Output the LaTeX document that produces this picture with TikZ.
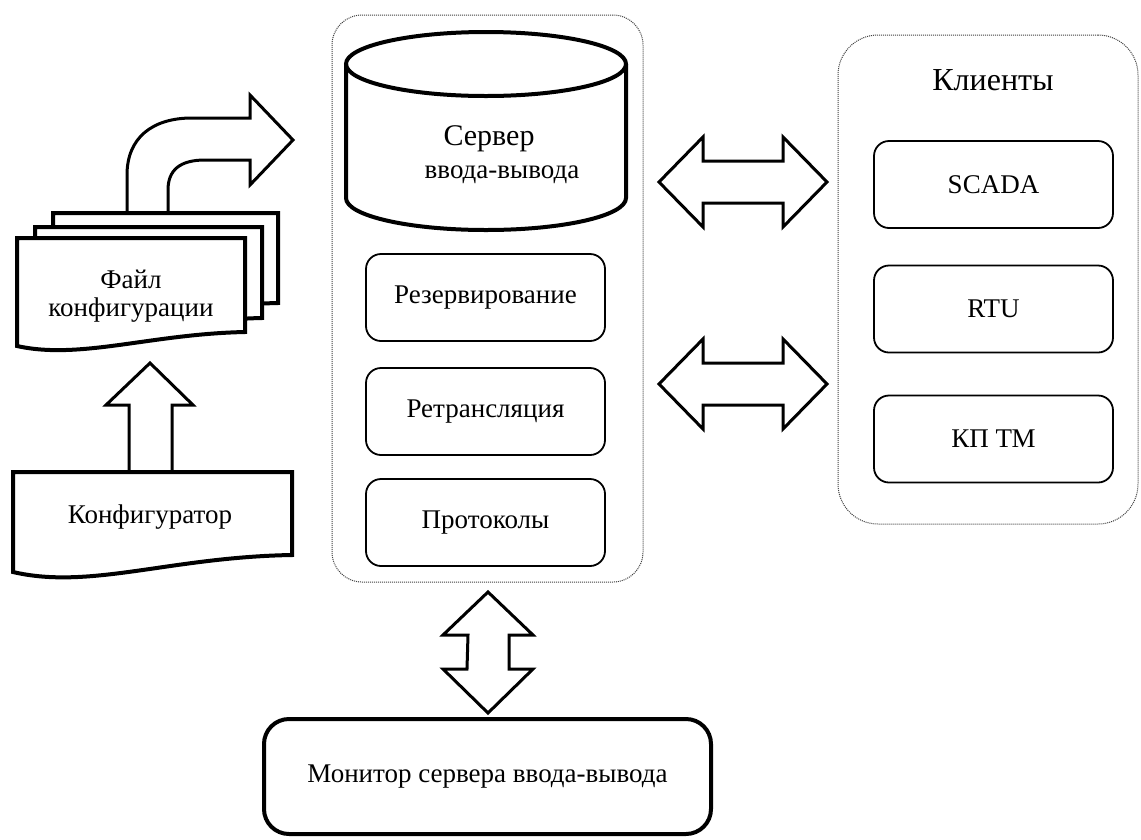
\documentclass[tikz,border=0pt]{standalone}
\usepackage{fontspec}
\setmainfont{Liberation Serif}
\usetikzlibrary{calc}
\newcommand{\lblfont}{\fontsize{27}{28}\selectfont}
\newcommand{\bigfont}{\fontsize{32}{33}\selectfont}
\newcommand{\srvfont}{\fontsize{30}{33}\selectfont}
\begin{document}
\begin{tikzpicture}[x=1pt,y=-1pt,
  thickline/.style={line width=4pt, line join=miter},
  arrowline/.style={line width=3pt, line join=miter, fill=white},
  subbox/.style={draw, line width=1.8pt, rounded corners=15pt, minimum width=239pt, minimum height=87pt, font=\lblfont},
  container/.style={draw=black!75, line width=1pt, dash pattern=on 1pt off 1pt},
  txt/.style={font=\lblfont, align=center}]
\useasboundingbox[fill=white] (0,0) rectangle (1141,839);

% containers
\node[container, rounded corners=30pt, minimum width=311pt, minimum height=567pt] (srv) at (487.5,298.5) {};
\node[container, rounded corners=40pt, minimum width=300pt, minimum height=489pt] (cli) at (988,279.5) {};

% cylinder
\draw[thickline, fill=white] (346,64) -- (346,198) arc[start angle=180, end angle=360, x radius=140pt, y radius=32pt] -- (626,64);
\draw[thickline] (486,64) ellipse [x radius=140pt, y radius=32pt];
\node[font=\lblfont, align=center] (srvlbl) at (502,155) {{\srvfont Сервер\hspace*{26pt}}\\[5pt]ввода-вывода};

% server sub-blocks
\node[subbox] (rez) at (485.5,297.5) {Резервирование};
\node[subbox] (retr) at (485.5,411.5) {Ретрансляция};
\node[subbox] (prot) at (485.5,522.5) {Протоколы};

% clients
\node[font=\bigfont] (clt) at (993,80) {Клиенты};
\node[subbox] (scada) at (993.5,184.5) {SCADA};
\node[subbox] (rtu) at (993.5,309) {RTU};
\node[subbox] (kp) at (993.5,439) {КП ТМ};

% monitor
\node[draw, line width=4pt, rounded corners=25pt, minimum width=447pt, minimum height=115pt, font=\lblfont] (mon) at (487.5,776.5) {Монитор сервера ввода-вывода};

% horizontal double arrows
\coordinate (a1) at (659,182);
\coordinate (a2) at (827,182);
\coordinate (b1) at (659,384);
\coordinate (b2) at (827,384);
\draw[arrowline] (a1) -- ++(44,-45) -- ++(0,24) -- ($(a2)+(-44,-21)$) -- ++(0,-24) -- (a2) -- ++(-44,45) -- ++(0,-24) -- ($(a1)+(44,21)$) -- ++(0,24) -- cycle;
\draw[arrowline] (b1) -- ++(44,-45) -- ++(0,24) -- ($(b2)+(-44,-21)$) -- ++(0,-24) -- (b2) -- ++(-44,45) -- ++(0,-24) -- ($(b1)+(44,21)$) -- ++(0,24) -- cycle;

% vertical double arrow
\coordinate (c1) at (488,592);
\coordinate (c2) at (488,713);
\draw[arrowline] (c1) -- ++(45,43) -- ++(-24,0) -- ($(c2)+(21,-44)$) -- ++(24,0) -- (c2) -- ++(-45,-44) -- ++(24,0) -- ($(c1)+(-20,43)$) -- ++(-25,0) -- cycle;

% curved arrow from files
\coordinate (d0) at (127,213);
\coordinate (d1) at (168,213);
\coordinate (dt) at (293,140);
\draw[arrowline] (d0) -- (127,175) .. controls (127,138) and (152,118) .. (192,118) -- (250,118) -- (250,95) -- (dt) -- (250,185) -- (250,160) -- (205,160) .. controls (180,160) and (168,170) .. (168,190) -- (d1);

% stacked documents
\draw[thickline, fill=white] (53,213) -- (278,213) -- (278,303) .. controls (183,305) and (115,331) .. (53,317) -- cycle;
\draw[thickline, fill=white] (35,227) -- (262,227) -- (262,318) .. controls (167,320) and (97,346) .. (35,332) -- cycle;
\draw[thickline, fill=white] (17,238) -- (245,238) -- (245,332) .. controls (150,334) and (80,360) .. (17,346) -- cycle;
\node[txt] (file) at (131,296) {Файл\\конфигурации};

% configurator arrow (drawn under the box)
\coordinate (e0) at (129,472);
\coordinate (e1) at (172,472);
\draw[arrowline] (e0) -- (129,405) -- (106,405) -- (150,363) -- (193,405) -- (172,405) -- (e1);

% configurator
\draw[thickline, fill=white] (13,472) -- (292,472) -- (292,555) .. controls (170,557) and (90,590) .. (13,572) -- cycle;
\node[txt] (cfg) at (150,517) {Конфигуратор};
\end{tikzpicture}
\end{document}
